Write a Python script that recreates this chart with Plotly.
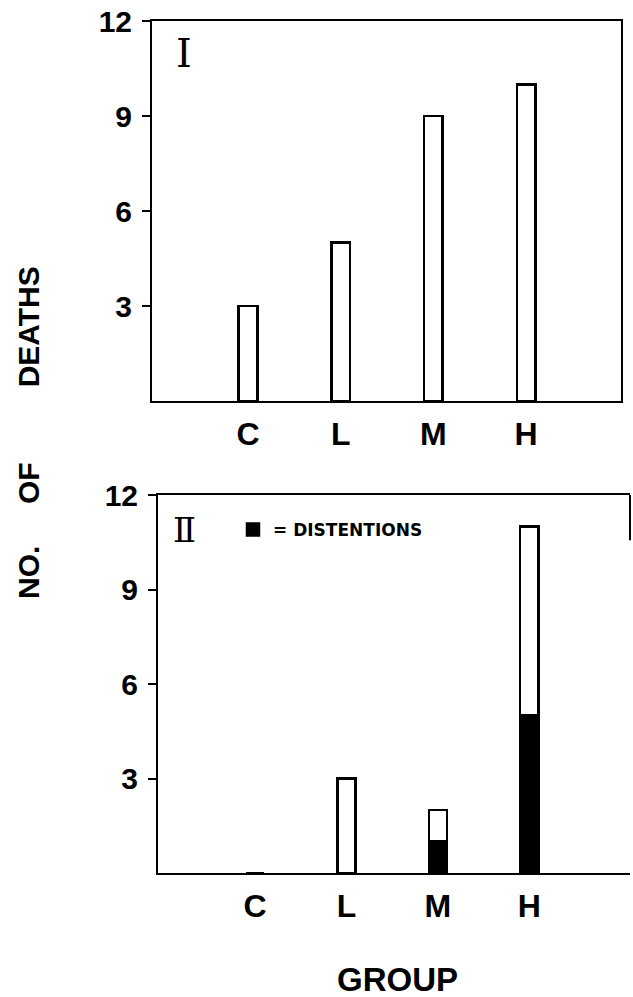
import plotly.graph_objects as go

# ---- data ----
groups = ["C", "L", "M", "H"]
deaths_I = [3, 5, 9, 10]            # panel I, total deaths
distentions_II = [0, 0, 1, 5]       # panel II, deaths with distentions (black)
other_II = [0, 3, 1, 6]             # panel II, remaining deaths (white)
y_ticks = [3, 6, 9, 12]
y_tick_text = ["3", "6", "9", "12"]

W, H = 633, 997
OFF = 0  # body margin removed by post_script below


def fx(px):
    return (px - OFF) / W


def fy(px):
    return 1 - (px - OFF) / H


TICK_FONT = dict(family="Liberation Sans Narrow, Liberation Sans, Arial", size=30, color="black", weight="bold")
CAT_FONT = dict(family="Liberation Sans Narrow, Liberation Sans, Arial", size=32, color="black", weight="bold")
BAR_W = 0.2
LINE = dict(color="black", width=2.5)

fig = go.Figure()
fig.add_bar(x=groups, y=deaths_I, xaxis="x", yaxis="y", width=BAR_W,
            marker=dict(color="white", line=LINE), showlegend=False)
fig.add_bar(x=groups, y=distentions_II, xaxis="x2", yaxis="y2", width=BAR_W,
            marker=dict(color="black", line=LINE), name="= DISTENTIONS", showlegend=True)
fig.add_bar(x=groups, y=other_II, xaxis="x2", yaxis="y2", width=BAR_W,
            marker=dict(color="white", line=LINE), showlegend=False)

common_x = dict(type="category", categoryorder="array", categoryarray=groups,
                showline=True, linecolor="black", linewidth=2, ticks="",
                tickfont=CAT_FONT, ticklabelstandoff=4, showgrid=False,
                zeroline=False, fixedrange=True, automargin=False)
common_y = dict(range=[0, 12], tickvals=y_ticks, ticktext=y_tick_text,
                ticks="outside", ticklen=8, tickwidth=2, tickcolor="black",
                showline=True, linecolor="black", linewidth=2,
                tickfont=TICK_FONT, ticklabelstandoff=4, showgrid=False,
                ticklabeloverflow="allow",
                zeroline=False, fixedrange=True, automargin=False)

fig.update_layout(
    width=W, height=H,
    margin=dict(l=0, r=0, t=0, b=0, autoexpand=False),
    paper_bgcolor="white", plot_bgcolor="white",
    barmode="stack",
    xaxis=dict(common_x, domain=[fx(152), fx(621)], range=[-1.036, 4.025],
               anchor="y", mirror=True),
    yaxis=dict(common_y, domain=[fy(401), fy(21)], anchor="x", mirror=True),
    xaxis2=dict(common_x, domain=[fx(158), fx(630)], range=[-1.06, 4.1],
                anchor="y2", mirror=True),
    yaxis2=dict(common_y, domain=[fy(873), fy(495)], anchor="x2", mirror=False),
    legend=dict(x=fx(233), y=fy(530), xanchor="left", yanchor="middle",
                bgcolor="rgba(0,0,0,0)",
                font=dict(family="DejaVu Sans", size=17, color="black", weight="bold")),
    showlegend=True,
    shapes=[dict(type="line", xref="x2 domain", yref="y2 domain",
                 x0=1, x1=1, y0=1, y1=0.88, line=dict(color="black", width=2))],
    annotations=[
        dict(text="Ⅰ", x=fx(184), y=fy(53), xref="paper", yref="paper",
             xanchor="center", yanchor="middle", showarrow=False,
             font=dict(family="DejaVu Serif", size=40, color="black")),
        dict(text="Ⅱ", x=fx(184), y=fy(530), xref="paper", yref="paper",
             xanchor="center", yanchor="middle", showarrow=False,
             font=dict(family="DejaVu Serif", size=34, color="black")),
        dict(text="NO.     OF         DEATHS", x=fx(29), y=fy(433), xref="paper", yref="paper",
             xanchor="center", yanchor="middle", textangle=-90, showarrow=False,
             font=dict(family="Liberation Sans, Arial", size=30, color="black", weight="bold")),
        dict(text="GROUP", x=fx(397), y=fy(979), xref="paper", yref="paper",
             xanchor="center", yanchor="middle", showarrow=False,
             font=dict(family="Liberation Sans, Arial", size=33, color="black", weight="bold")),
    ],
)

fig.write_html("out.html", config={"displayModeBar": False},
               post_script="document.body.style.margin='0';")
